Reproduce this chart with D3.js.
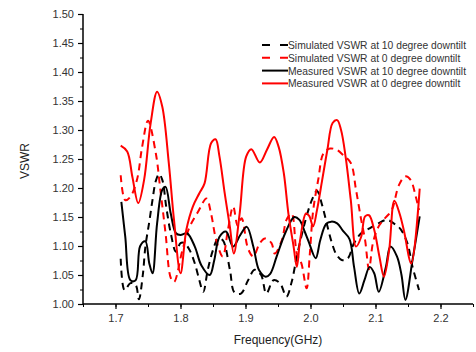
<!DOCTYPE html>
<html>
<head>
<meta charset="utf-8">
<script src="https://cdn.jsdelivr.net/npm/d3@7"></script>
<style>
  html, body { margin: 0; padding: 0; background: #fff; }
  svg { display: block; font-family: Arial, "Liberation Sans", sans-serif; }
</style>
</head>
<body>
<svg id="chart" width="476" height="352"></svg>
<script>
// Frequency (GHz) and VSWR readings for each configuration
const simFreq10 = [1.708,1.714,1.723,1.731,1.736,1.742,1.746,1.752,1.757,1.762,1.767,1.772,1.778,1.785,1.793,1.800,1.806,1.814,1.822,1.829,1.835,1.842,1.850,1.858,1.865,1.876,1.883,1.893,1.904,1.914,1.924,1.932,1.943,1.953,1.963,1.971,1.979,1.991,2.002,2.010,2.018,2.025,2.033,2.040,2.048,2.057,2.067,2.078,2.090,2.104,2.118,2.128,2.138,2.149,2.157,2.167];
const simVswr10 = [1.078,1.024,1.036,1.033,1.008,1.050,1.099,1.142,1.180,1.212,1.224,1.214,1.168,1.122,1.090,1.105,1.105,1.093,1.070,1.041,1.021,1.059,1.093,1.113,1.110,1.059,1.020,1.018,1.041,1.059,1.050,1.018,1.041,1.036,1.013,1.038,1.082,1.139,1.179,1.195,1.170,1.139,1.105,1.085,1.076,1.078,1.105,1.122,1.130,1.139,1.145,1.139,1.130,1.105,1.064,1.024];

const simFreq0 = [1.708,1.715,1.723,1.733,1.741,1.750,1.762,1.769,1.777,1.785,1.790,1.803,1.814,1.827,1.840,1.847,1.855,1.865,1.873,1.881,1.888,1.894,1.904,1.912,1.922,1.930,1.940,1.945,1.956,1.963,1.971,1.979,1.986,1.994,1.999,2.004,2.012,2.020,2.030,2.040,2.050,2.062,2.070,2.078,2.084,2.090,2.096,2.104,2.113,2.125,2.136,2.146,2.154,2.162,2.167];
const simVswr0 = [1.222,1.179,1.185,1.214,1.271,1.316,1.260,1.197,1.122,1.045,1.038,1.093,1.133,1.159,1.182,1.156,1.110,1.082,1.128,1.168,1.135,1.148,1.095,1.082,1.105,1.113,1.105,1.087,1.110,1.145,1.156,1.087,1.070,1.027,1.087,1.160,1.215,1.260,1.268,1.266,1.257,1.243,1.197,1.145,1.110,1.060,1.105,1.132,1.146,1.162,1.205,1.220,1.214,1.185,1.162];

const measFreq10 = [1.709,1.715,1.723,1.731,1.738,1.746,1.752,1.757,1.764,1.772,1.777,1.785,1.793,1.800,1.810,1.822,1.832,1.845,1.852,1.860,1.870,1.881,1.892,1.902,1.912,1.921,1.931,1.938,1.948,1.961,1.975,1.983,1.991,1.997,2.008,2.015,2.024,2.032,2.041,2.050,2.060,2.067,2.075,2.083,2.091,2.098,2.105,2.116,2.123,2.133,2.140,2.146,2.157,2.168];
const measVswr10 = [1.176,1.116,1.041,1.041,1.100,1.108,1.070,1.053,1.139,1.197,1.202,1.156,1.122,1.119,1.122,1.099,1.067,1.050,1.076,1.116,1.125,1.099,1.119,1.133,1.099,1.058,1.047,1.052,1.082,1.122,1.150,1.145,1.125,1.108,1.079,1.110,1.138,1.142,1.139,1.126,1.112,1.064,1.018,1.041,1.064,1.053,1.021,1.064,1.099,1.082,1.050,1.007,1.076,1.151];

const measFreq0 = [1.708,1.718,1.726,1.735,1.744,1.754,1.764,1.772,1.782,1.790,1.800,1.809,1.819,1.829,1.837,1.847,1.854,1.860,1.868,1.876,1.882,1.891,1.901,1.909,1.922,1.933,1.944,1.951,1.959,1.966,1.974,1.979,1.984,1.993,1.998,2.004,2.010,2.018,2.026,2.034,2.041,2.047,2.054,2.062,2.070,2.078,2.084,2.090,2.098,2.106,2.113,2.121,2.129,2.137,2.144,2.155,2.168];
const measVswr0 = [1.273,1.263,1.219,1.174,1.214,1.311,1.366,1.340,1.243,1.145,1.053,1.128,1.168,1.191,1.208,1.277,1.284,1.254,1.191,1.133,1.087,1.156,1.254,1.267,1.244,1.266,1.288,1.271,1.225,1.156,1.099,1.064,1.110,1.156,1.152,1.134,1.162,1.214,1.266,1.312,1.317,1.300,1.254,1.179,1.099,1.116,1.151,1.153,1.128,1.082,1.047,1.093,1.178,1.156,1.125,1.070,1.199];

const seriesNames = [
  "Simulated VSWR at 10 degree downtilt",
  "Simulated VSWR at 0 degree downtilt",
  "Measured VSWR at 10 degree downtilt",
  "Measured VSWR at 0 degree downtilt"
];

const xTicks = [1.7, 1.8, 1.9, 2.0, 2.1, 2.2];
const yTicks = [1.00, 1.05, 1.10, 1.15, 1.20, 1.25, 1.30, 1.35, 1.40, 1.45, 1.50];

const series = [
  { name: seriesNames[0], f: simFreq10,  v: simVswr10,  color: "#000000", dash: "7,5" },
  { name: seriesNames[1], f: simFreq0,   v: simVswr0,   color: "#ff0000", dash: "7,5" },
  { name: seriesNames[2], f: measFreq10, v: measVswr10, color: "#000000", dash: null },
  { name: seriesNames[3], f: measFreq0,  v: measVswr0,  color: "#ff0000", dash: null }
];

const svg = d3.select("#chart");
const plot = { left: 83, right: 473, top: 14, bottom: 304 };

const x = d3.scaleLinear().domain([1.65, 2.25]).range([plot.left, plot.right]);
const y = d3.scaleLinear().domain([1.00, 1.50]).range([plot.bottom, plot.top]);

const tickColor = "#333";

// minor ticks
svg.append("g")
  .attr("transform", `translate(0,${plot.bottom})`)
  .call(d3.axisBottom(x).tickValues(d3.range(1.65, 2.251, 0.05)).tickSize(3).tickFormat(""))
  .call(g => g.select(".domain").remove())
  .selectAll("line").attr("stroke", "#000").attr("stroke-width", 1);

svg.append("g")
  .attr("transform", `translate(${plot.left},0)`)
  .call(d3.axisLeft(y).tickValues(d3.range(1.0, 1.501, 0.025)).tickSize(3).tickFormat(""))
  .call(g => g.select(".domain").remove())
  .selectAll("line").attr("stroke", "#000").attr("stroke-width", 1);

// major axes
const xAxis = svg.append("g")
  .attr("transform", `translate(0,${plot.bottom})`)
  .call(d3.axisBottom(x).tickValues(xTicks).tickSize(5).tickPadding(5).tickFormat(d3.format(".1f")));
xAxis.select(".domain").attr("stroke", "#000").attr("stroke-width", 1.5).attr("d", `M${plot.left},0H${plot.right}`);
xAxis.selectAll("line").attr("stroke", "#000").attr("stroke-width", 1.2);
xAxis.selectAll("text").attr("fill", tickColor).style("font-size", "11px");

const yAxis = svg.append("g")
  .attr("transform", `translate(${plot.left},0)`)
  .call(d3.axisLeft(y).tickValues(yTicks).tickSize(5).tickPadding(4).tickFormat(d3.format(".2f")));
yAxis.select(".domain").attr("stroke", "#000").attr("stroke-width", 1.5).attr("d", `M0,${plot.top}V${plot.bottom}`);
yAxis.selectAll("line").attr("stroke", "#000").attr("stroke-width", 1.2);
yAxis.selectAll("text").attr("fill", tickColor).style("font-size", "11px");

// axis titles
svg.append("text")
  .attr("x", 278).attr("y", 344)
  .attr("text-anchor", "middle")
  .attr("fill", "#222")
  .style("font-size", "12px")
  .text("Frequency(GHz)");

svg.append("text")
  .attr("transform", "translate(29,161) rotate(-90)")
  .attr("text-anchor", "middle")
  .attr("fill", "#222")
  .style("font-size", "12px")
  .text("VSWR");

// curves
const line = d3.line()
  .x(d => x(d[0]))
  .y(d => y(d[1]))
  .curve(d3.curveCatmullRom.alpha(0.5));

series.forEach(s => {
  const pts = s.f.map((f, i) => [f, s.v[i]]);
  svg.append("path")
    .datum(pts)
    .attr("d", line)
    .attr("fill", "none")
    .attr("stroke", s.color)
    .attr("stroke-width", 2)
    .attr("stroke-linejoin", "round")
    .attr("stroke-dasharray", s.dash);
});

// legend
const legend = svg.append("g").attr("transform", "translate(262,45)");
series.forEach((s, i) => {
  const row = legend.append("g").attr("transform", `translate(0,${i * 12.8})`);
  row.append("line")
    .attr("x1", 0).attr("x2", 26).attr("y1", 0).attr("y2", 0)
    .attr("stroke", s.color)
    .attr("stroke-width", 2)
    .attr("stroke-dasharray", s.dash ? "8,10" : null);
  row.append("text")
    .attr("x", 26).attr("y", 4)
    .attr("fill", "#333")
    .style("font-size", "10.3px")
    .text(s.name);
});
</script>
</body>
</html>
